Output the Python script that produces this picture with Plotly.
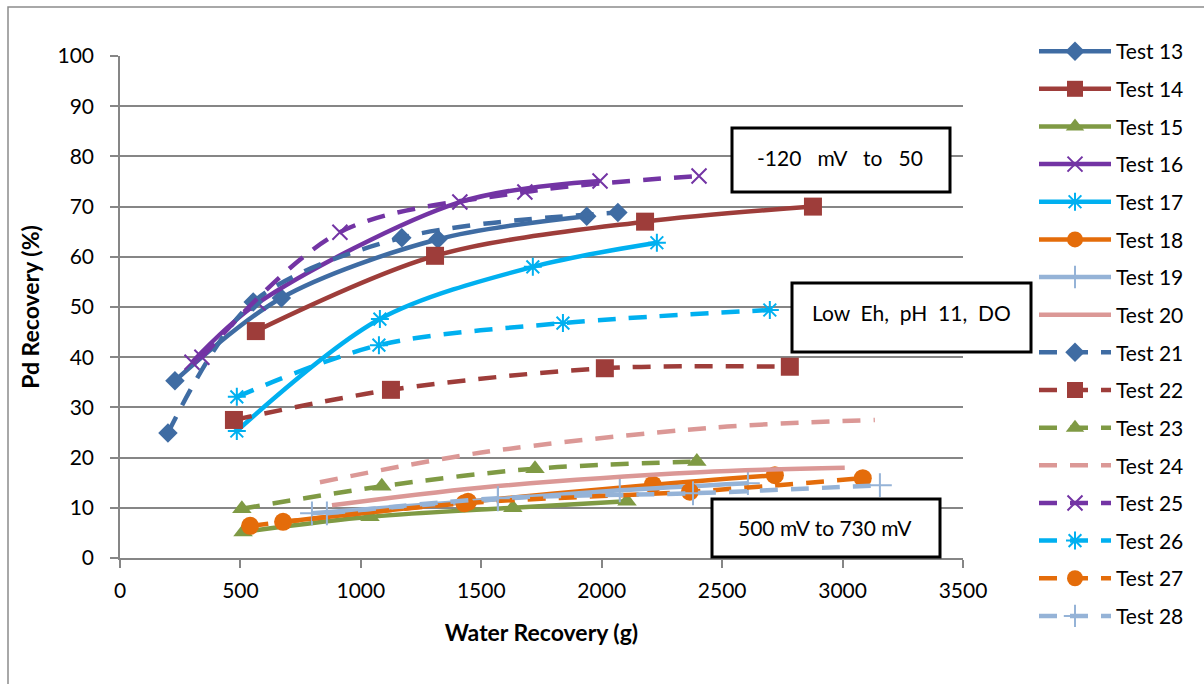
import plotly.graph_objects as go

# ---- data ----
names = ["Test 13", "Test 14", "Test 15", "Test 16", "Test 17", "Test 18", "Test 19", "Test 20",
         "Test 21", "Test 22", "Test 23", "Test 24", "Test 25", "Test 26", "Test 27", "Test 28"]

t13_x = [228, 670, 1320, 1938]
t13_y = [35.3, 51.8, 63.5, 68.1]
t14_x = [564, 1308, 2180, 2877]
t14_y = [45.2, 60.2, 67.0, 70.0]
t15_x = [511, 1038, 1631, 2105]
t15_y = [5.2, 8.2, 10.0, 11.3]
t16_x = [299, 573, 1411, 1993]
t16_y = [39.0, 50.8, 70.9, 75.1]
t17_x = [485, 1079, 1714, 2229]
t17_y = [25.3, 47.6, 58.0, 62.8]
t18_x = [677, 1445, 2212, 2719]
t18_y = [7.2, 11.2, 14.6, 16.5]
t19_x = [797, 1569, 2075, 2607]
t19_y = [8.9, 11.7, 13.5, 14.9]
t20_x = [880, 1494, 2407, 3009]
t20_y = [10.5, 14.0, 17.1, 18.0]
t21_x = [199, 553, 1170, 2067]
t21_y = [24.9, 51.0, 63.8, 68.8]
t22_x = [473, 1125, 2013, 2781]
t22_y = [27.5, 33.5, 37.8, 38.1]
t23_x = [506, 1087, 1723, 2395]
t23_y = [9.8, 14.3, 17.8, 19.2]
t24_x = [830, 1500, 2470, 3134]
t24_y = [15.1, 21.0, 26.0, 27.5]
t25_x = [340, 913, 1681, 2404]
t25_y = [40.0, 64.9, 72.9, 76.1]
t26_x = [485, 1075, 1839, 2698]
t26_y = [32.1, 42.4, 46.8, 49.4]
t27_x = [540, 1430, 2366, 3084]
t27_y = [6.4, 10.9, 13.2, 15.9]
t28_x = [859, 1569, 2379, 3155]
t28_y = [8.9, 11.9, 12.9, 14.5]

xs = [t13_x, t14_x, t15_x, t16_x, t17_x, t18_x, t19_x, t20_x,
      t21_x, t22_x, t23_x, t24_x, t25_x, t26_x, t27_x, t28_x]
ys = [t13_y, t14_y, t15_y, t16_y, t17_y, t18_y, t19_y, t20_y,
      t21_y, t22_y, t23_y, t24_y, t25_y, t26_y, t27_y, t28_y]

x_ticks = [0, 500, 1000, 1500, 2000, 2500, 3000, 3500]
y_ticks = [0, 10, 20, 30, 40, 50, 60, 70, 80, 90, 100]

# ---- styles ----
BLUE = "#3F6CA3"
RED = "#9E3D3A"
GREEN = "#7F9A44"
PURPLE = "#7334A4"
CYAN = "#00B0F0"
ORANGE = "#E46C0A"
LBLUE = "#95B3D7"
PINK = "#DB9896"

colors = [BLUE, RED, GREEN, PURPLE, CYAN, ORANGE, LBLUE, PINK,
          BLUE, RED, GREEN, PINK, PURPLE, CYAN, ORANGE, LBLUE]
symbols = ["diamond", "square", "triangle-up", "x-thin", "asterisk", "circle", "cross-thin", None,
           "diamond", "square", "triangle-up", None, "x-thin", "asterisk", "circle", "cross-thin"]
sizes = {"diamond": 15, "square": 18, "triangle-up": 17, "x-thin": 15, "asterisk": 15,
         "circle": 18, "cross-thin": 17}
dashed = [False] * 8 + [True] * 8

FONT = "Lato"
fig = go.Figure()
for i, nm in enumerate(names):
    sym = symbols[i]
    line = dict(color=colors[i], width=4.5, shape="spline", smoothing=0.9,
                dash="18px,13px" if dashed[i] else "solid")
    if sym is None:
        fig.add_trace(go.Scatter(x=xs[i], y=ys[i], mode="lines", name=nm, line=line,
                                 legendgroup=nm))
    else:
        thin = sym in ("x-thin", "asterisk", "cross-thin")
        marker = dict(symbol=sym, size=sizes[sym], color=colors[i],
                      line=dict(color=colors[i], width=2 if thin else 0))
        fig.add_trace(go.Scatter(x=xs[i], y=ys[i], mode="lines+markers", name=nm, line=line,
                                 marker=marker, legendgroup=nm))

# plot-area pixel geometry
L, R, T, B = 120, 963, 56, 558
W, H = R - L, B - T


def px(xp):
    return (xp - L) / W


def py(yp):
    return (B - yp) / H


boxes = [
    ((732, 128, 950, 192), "-120\u00a0\u00a0\u00a0mV\u00a0\u00a0\u00a0to\u00a0\u00a0\u00a050", (840, 157)),
    ((792, 283, 1031, 352), "Low\u00a0\u00a0Eh,\u00a0\u00a0pH\u00a0\u00a011,\u00a0\u00a0DO", (911, 312)),
    ((712, 499, 940, 557), "500 mV to 730 mV", (825, 527)),
]
shapes = []
annotations = []
for (x0, y0, x1, y1), txt, (tx, ty) in boxes:
    shapes.append(dict(type="rect", xref="paper", yref="paper",
                       x0=px(x0), x1=px(x1), y0=py(y1), y1=py(y0),
                       line=dict(color="black", width=3), fillcolor="white", layer="above"))
    annotations.append(dict(xref="paper", yref="paper", x=px(tx), y=py(ty), text=txt,
                            showarrow=False, xanchor="center", yanchor="middle",
                            font=dict(family=FONT, size=21, color="black")))
# outer chart border
shapes.append(dict(type="rect", xref="paper", yref="paper",
                   x0=px(8), x1=px(1300), y0=py(800), y1=py(7),
                   line=dict(color="#8C8C8C", width=1.5), layer="below"))

fig.update_layout(
    width=1204, height=684,
    margin=dict(l=L, r=1204 - R, t=T, b=684 - B),
    paper_bgcolor="white", plot_bgcolor="white",
    font=dict(family=FONT, size=21, color="black"),
    shapes=shapes, annotations=annotations,
    showlegend=True,
    legend=dict(x=px(1034), y=py(31), xanchor="left", yanchor="top",
                font=dict(family=FONT, size=21, color="black"),
                tracegroupgap=7.35, bgcolor="rgba(0,0,0,0)", itemwidth=72, maxheight=660),
    xaxis=dict(range=[0, 3500], tickvals=x_ticks, ticks="outside", ticklen=8, tickwidth=1.5,
               tickcolor="#868686", showline=True, linecolor="#868686", linewidth=1.5,
               showgrid=False, zeroline=False, ticklabelstandoff=5,
               title=dict(text="<b>Water Recovery (g)</b>", font=dict(family=FONT, size=23),
                          standoff=24)),
    yaxis=dict(range=[0, 100], tickvals=y_ticks, ticks="outside", ticklen=8, tickwidth=1.5,
               tickcolor="#868686", showline=True, linecolor="#868686", linewidth=1.5,
               showgrid=True, gridcolor="#868686", gridwidth=1.5, zeroline=False,
               ticklabelstandoff=12,
               title=dict(text="<b>Pd Recovery (%)</b>", font=dict(family=FONT, size=23),
                          standoff=11)),
)

fig.write_html("out.html", post_script="document.body.style.margin='0px';",
               config={"displayModeBar": False})
